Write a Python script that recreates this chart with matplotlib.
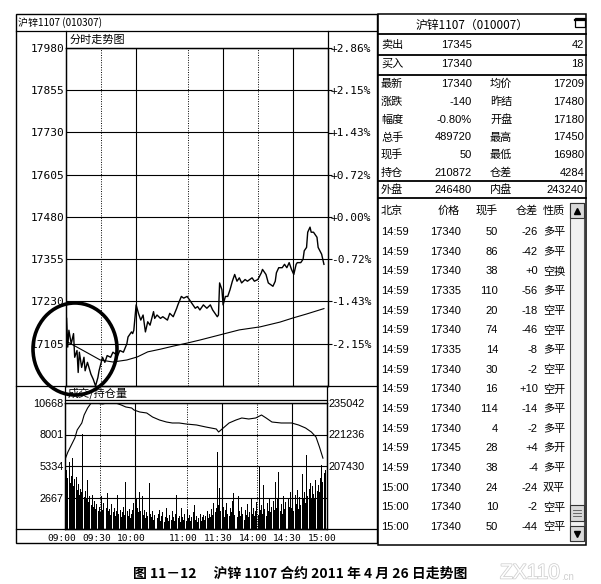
import matplotlib
matplotlib.use("Agg")
import matplotlib.pyplot as plt
import matplotlib.patheffects as pe
from matplotlib.patches import Ellipse, Rectangle
from matplotlib.lines import Line2D
from matplotlib.ticker import FuncFormatter
from matplotlib.transforms import ScaledTranslation

W, H = 601, 584
CJK = ['Noto Sans CJK SC', 'DejaVu Sans']
MONO = 'DejaVu Sans Mono'
SANS = 'Liberation Sans'

# ---- intraday price (minute index from 09:00, 225 trading minutes) ----
prev_settle = 17480
price_low = 16980
price_ticks = [17105, 17230, 17355, 17480, 17605, 17730, 17855, 17980]

price_min = [0, 1, 2, 4, 6, 7, 9, 10, 11, 13, 15, 16, 18, 21, 23, 25, 27, 28, 31, 33,
             35, 38, 40, 44, 46, 49, 52, 53, 56, 57, 58, 60, 62, 64, 66, 68, 70, 72, 75, 76,
             78, 81, 83, 87, 89, 92, 95, 96, 99, 101, 104, 106, 108, 111, 113, 115, 118, 121, 124, 126,
             130, 131, 132, 134, 135, 137, 139, 141, 143, 145, 147, 149, 151, 154, 156, 160, 162, 165, 168, 169,
             172, 174, 176, 178, 180, 181, 183, 186, 188, 190, 192, 194, 196, 198, 199, 202, 204, 205, 207, 208,
             210, 211, 213, 216, 217, 220, 222]
price_val = [17180, 17095, 17145, 17105, 17135, 17065, 17085, 17020, 17080, 17035, 17065, 17025, 17050, 17015, 17000, 16980, 17005, 17025, 17065, 17050,
             17070, 17065, 17080, 17070, 17085, 17080, 17105, 17125, 17140, 17135, 17145, 17220, 17195, 17175, 17190, 17140, 17170, 17160, 17200, 17180,
             17190, 17180, 17185, 17175, 17195, 17185, 17210, 17220, 17245, 17240, 17245, 17235, 17225, 17210, 17215, 17205, 17220, 17210, 17220, 17205,
             17185, 17190, 17285, 17265, 17220, 17245, 17245, 17265, 17290, 17310, 17290, 17300, 17285, 17295, 17290, 17300, 17290, 17295, 17315, 17325,
             17310, 17285, 17280, 17275, 17290, 17315, 17330, 17330, 17340, 17330, 17345, 17325, 17310, 17340, 17345, 17345, 17355, 17380, 17390, 17435,
             17450, 17435, 17435, 17420, 17390, 17370, 17340]

avg_min = [1, 9, 18, 29, 40, 52, 61, 70, 81, 92, 104, 115, 132, 149, 167, 184, 195, 207, 222]
avg_val = [17110, 17095, 17078, 17057, 17051, 17057, 17066, 17081, 17089, 17098,
           17107, 17116, 17131, 17146, 17155, 17169, 17181, 17193, 17209]

# ---- volume / open interest ----
vol_ticks = [2667, 5334, 8001, 10668]
oi_ticks = [207430, 221236, 235042]
volume = [4800, 5000, 4300, 5670, 3900, 4500, 6000, 3600, 4200, 4400, 3300, 3800, 2900, 3400, 3100,
          8040, 2700, 3200, 2500, 4150, 2300, 2800, 2000, 2880, 1900, 2400, 1700, 2100, 1500, 1900,
          1400, 2800, 1600, 2200, 1300, 1800, 3050, 1500, 1700, 1200, 2100, 1400, 1800, 1100, 1500,
          2880, 1300, 1600, 1000, 1400, 1900, 1200, 4000, 1500, 1100, 1700, 900, 1300, 1600, 2200,
          6270, 2500, 1800, 1400, 3130, 1500, 2800, 1200, 1600, 900, 1400, 1100, 3900, 1300, 1000,
          1500, 800, 1200, 2300, 900, 1300, 1600, 700, 1100, 1400, 600, 1000, 1800, 900, 700,
          1200, 800, 1500, 1000, 700, 1300, 2880, 900, 1100, 600, 1800, 1000, 800, 1300, 700,
          1600, 900, 1200, 700, 1000, 1400, 2000, 800, 1100, 600, 900, 1300, 700, 1000, 1200,
          800, 1100, 1500, 900, 1300, 1000, 1700, 1200, 2200, 1400, 1800, 6520, 2000, 3470, 1500,
          1200, 1900, 1000, 1600, 2200, 1300, 1100, 1800, 1400, 2400, 3050, 1200, 1700, 1000, 2800,
          1500, 1100, 1900, 1300, 800, 1600, 1200, 2100, 1000, 1400, 2600, 1300, 1800, 1100, 1500,
          2300, 1200, 5250, 1600, 2000, 1300, 3720, 1700, 1100, 2200, 1500, 2600, 1400, 1900, 2400,
          1600, 3980, 1800, 2500, 4830, 1500, 2100, 1300, 2800, 1700, 2300, 1400, 2600, 1900, 3130,
          1800, 2400, 1500, 2900, 2100, 3300, 1700, 2700, 2000, 4660, 2500, 3100, 2200, 6270, 2800,
          3400, 3900, 2600, 3600, 3000, 2500, 4150, 3200, 3700, 3130, 4300, 5400, 4000, 4700, 5000]

oi_min = [0, 2, 5, 8, 10, 14, 16, 19, 22, 27, 29, 32, 35, 40, 44, 48, 52, 57, 59, 64,
          70, 75, 81, 87, 92, 98, 104, 113, 121, 130, 132, 137, 141, 147, 152, 158, 164, 169, 173, 178,
          186, 195, 201, 207, 212, 216, 219, 222]
oi_val = [210935, 213565, 216630, 219700, 223210, 226280, 229780, 232850, 235000, 234950,
          234800, 234600, 235000, 234900, 234900, 234170, 233290, 232850, 231970, 231100,
          230660, 228910, 227590, 226710, 226280, 226280, 225840, 225400, 224520, 223650,
          222330, 224520, 226280, 227590, 228470, 228030, 228470, 229780, 228470, 226710,
          226280, 226280, 225400, 224090, 222330, 220140, 215760, 210872]

time_ticks = [0, 30, 60, 105, 135, 165, 195, 225]
time_labels = ['09:00', '09:30', '10:00', '11:00', '11:30', '14:00', '14:30', '15:00']
grid_dotted = [30, 105, 165]
grid_solid = [60, 135, 195]

# ---- quote panel ----
panel_title = '沪锌1107（010007）'
ask_row = ('卖出', '17345', '42')
bid_row = ('买入', '17340', '18')
quote_rows = [('最新', '17340', '均价', '17209'),
              ('涨跌', '-140', '昨结', '17480'),
              ('幅度', '-0.80%', '开盘', '17180'),
              ('总手', '489720', '最高', '17450'),
              ('现手', '50', '最低', '16980'),
              ('持仓', '210872', '仓差', '4284')]
outer_row = ('外盘', '246480', '内盘', '243240')

tick_header = ['北京', '价格', '现手', '仓差', '性质']
tick_time = ['14:59'] * 13 + ['15:00'] * 3
tick_price = ['17340', '17340', '17340', '17335', '17340', '17340', '17335', '17340',
              '17340', '17340', '17340', '17345', '17340', '17340', '17340', '17340']
tick_qty = ['50', '86', '38', '110', '20', '74', '14', '30', '16', '114', '4', '28', '38', '24', '10', '50']
tick_oi = ['-26', '-42', '+0', '-56', '-18', '-46', '-8', '-2', '+10', '-14', '-2', '+4', '-4', '-24', '-2', '-44']
tick_kind = ['多平', '多平', '空换', '多平', '空平', '空平', '多平', '空平',
             '空开', '多平', '多平', '多开', '多平', '双平', '空平', '空平']

caption = '图 11－12　 沪锌 1107 合约 2011 年 4 月 26 日走势图'


def rect(x0, y0, x1, y1):
    return [x0 / W, 1 - y1 / H, (x1 - x0) / W, (y1 - y0) / H]


def fx(x):
    return x / W


def fy(y):
    return 1 - y / H


fig = plt.figure(figsize=(W / 100, H / 100), dpi=100)
fig.patch.set_facecolor('white')


def hline(y, x0, x1, lw=0.9, color='black'):
    fig.add_artist(Line2D([fx(x0), fx(x1)], [fy(y), fy(y)], color=color, lw=lw))


def vline(x, y0, y1, lw=0.9, color='black'):
    fig.add_artist(Line2D([fx(x), fx(x)], [fy(y0), fy(y1)], color=color, lw=lw))


def txt(x, y, s, ha='left', size=8, family=CJK, **kw):
    fig.text(fx(x), fy(y), s, ha=ha, va='center', fontsize=size, family=family, **kw)


# ---------------- main price chart ----------------
ax = fig.add_axes(rect(66, 48, 328, 386))
ax.plot(price_min, price_val, color='black', lw=1.0)
ax.plot(avg_min, avg_val, color='black', lw=0.8)
ax.set_xlim(-0.5, 225.5)
ax.set_ylim(price_low, price_ticks[-1])
ax.set_yticks(price_ticks)
ax.set_xticks([])
ax.yaxis.grid(True, color='black', lw=0.8)
for m in grid_solid:
    ax.axvline(m, color='black', lw=0.8)
for m in grid_dotted:
    ax.axvline(m, color='black', lw=0.7, ls=(0, (1, 1.5)))
ax.tick_params(axis='y', length=0, pad=1, labelsize=8)
for lbl in ax.get_yticklabels():
    lbl.set_family(MONO)

axr = ax.twinx()
axr.set_ylim(ax.get_ylim())
axr.set_yticks(price_ticks)
axr.yaxis.set_major_formatter(FuncFormatter(lambda p, _: f"{(p - prev_settle) / prev_settle * 100:+.2f}%"))
axr.tick_params(axis='y', length=3, pad=-1, labelsize=8, width=0.8)
for lbl in axr.get_yticklabels():
    lbl.set_family(MONO)
for a in (ax, axr):
    for s in a.spines.values():
        s.set_linewidth(0.9)

# ---------------- volume / open interest ----------------
axv = fig.add_axes(rect(65, 403, 327, 529))
axv.bar(range(len(volume)), volume, width=0.85, color='black', lw=0)
axv.set_xlim(-0.5, 225.5)
axv.set_ylim(0, vol_ticks[-1])
axv.set_yticks(vol_ticks)
axv.yaxis.grid(True, color='black', lw=0.8)
for m in grid_solid:
    axv.axvline(m, color='black', lw=0.8)
for m in grid_dotted:
    axv.axvline(m, color='black', lw=0.7, ls=(0, (1, 1.5)))
axv.set_xticks(time_ticks, time_labels)
axv.tick_params(axis='x', length=0, pad=3.5, labelsize=6.8)
axv.tick_params(axis='y', length=0, pad=1, labelsize=7.8)
for lbl in axv.get_xticklabels():
    lbl.set_family(MONO)
    lbl.set_transform(lbl.get_transform() + ScaledTranslation(-0.04, 0, fig.dpi_scale_trans))
for lbl in axv.get_yticklabels():
    lbl.set_family(SANS)

axo = axv.twinx()
axo.plot(oi_min, oi_val, color='black', lw=0.8)
oi_step = oi_ticks[1] - oi_ticks[0]
axo.set_ylim(oi_ticks[-1] - len(vol_ticks) * oi_step, oi_ticks[-1])
axo.set_yticks(oi_ticks)
axo.tick_params(axis='y', length=0, pad=1, labelsize=7.8)
for lbl in axo.get_yticklabels():
    lbl.set_family(SANS)
for a in (axv, axo):
    for s in a.spines.values():
        s.set_linewidth(0.9)

# ---------------- left panel frame ----------------
fig.add_artist(Rectangle((fx(16), fy(543)), (377 - 16) / W, (543 - 14) / H,
                         fill=False, lw=1.0, edgecolor='black'))
hline(31, 16, 377)
vline(66, 31, 48)
vline(328, 31, 48)
hline(386, 16, 377)
vline(65, 386, 403)
vline(327, 386, 403)
hline(400, 65, 327)
hline(529, 16, 377)
txt(18, 23, '沪锌1107 (010307)', size=7.2)
txt(70, 40, '分时走势图', size=8)
txt(68, 393, '成交/持仓量', size=8)

# highlight ring around the opening dip
fig.add_artist(Ellipse((fx(75), fy(349)), 84 / W, 92 / H, transform=fig.transFigure,
                       fill=False, lw=2.6, edgecolor='black', zorder=20))

# ---------------- right quote panel ----------------
fig.add_artist(Rectangle((fx(378), fy(545)), (586 - 378) / W, (545 - 14) / H,
                         fill=False, lw=1.1, edgecolor='black'))
for y in (34, 55, 75, 181, 198):
    hline(y, 378, 586, lw=1.3)
txt(472, 25, panel_title, ha='center', size=8.5)
fig.add_artist(Rectangle((fx(575), fy(27)), 10 / W, 9 / H, fill=False, lw=0.9, edgecolor='black'))
hline(20, 575, 585, lw=1.6)

for y, row in ((45, ask_row), (64, bid_row)):
    txt(381, y, row[0])
    txt(472, y, row[1], ha='right', family=SANS)
    txt(584, y, row[2], ha='right', family=SANS)

for k, row in enumerate(quote_rows + [outer_row]):
    y = 84 + 17.8 * k if k < len(quote_rows) else 190
    txt(381, y, row[0])
    txt(472, y, row[1], ha='right', family=SANS)
    txt(490, y, row[2])
    txt(584, y, row[3], ha='right', family=SANS)

# tick-by-tick table
txt(381, 211, tick_header[0])
txt(460, 211, tick_header[1], ha='right')
txt(498, 211, tick_header[2], ha='right')
txt(538, 211, tick_header[3], ha='right')
txt(543, 211, tick_header[4])
for k in range(len(tick_time)):
    y = 232 + 19.67 * k
    txt(381, y, tick_time[k], family=SANS)
    txt(461, y, tick_price[k], ha='right', family=SANS)
    txt(498, y, tick_qty[k], ha='right', family=SANS)
    txt(538, y, tick_oi[k], ha='right', family=SANS)
    txt(543, y, tick_kind[k])

# scrollbar
fig.add_artist(Rectangle((fx(570), fy(541)), 14 / W, (541 - 203) / H,
                         facecolor='#f2f2f2', edgecolor='#555555', lw=0.8))
for y0, y1 in ((203, 218), (505, 521), (526, 541)):
    fig.add_artist(Rectangle((fx(570), fy(y1)), 14 / W, (y1 - y0) / H,
                             facecolor='#d9d9d9', edgecolor='#333333', lw=0.8))
fig.add_artist(Line2D([fx(577)], [fy(210.5)], marker='^', ms=4.5, color='black', lw=0))
fig.add_artist(Line2D([fx(577)], [fy(533.5)], marker='v', ms=4.5, color='black', lw=0))
for y in (510, 513, 516):
    hline(y, 573, 581, lw=0.6, color='#555555')

# ---------------- caption & watermark ----------------
fig.text(fx(300), fy(574), caption, ha='center', va='center', fontsize=10,
         weight='bold', family=CJK)
fig.text(fx(500), fy(573), 'ZX110', ha='left', va='center', fontsize=15, color='white',
         family=SANS, path_effects=[pe.Stroke(linewidth=1.1, foreground='#cfcfcf'), pe.Normal()])
fig.text(fx(561), fy(577), '.cn', ha='left', va='center', fontsize=7, color='#d0d0d0', family=SANS)

fig.savefig('out.png', dpi=100)
